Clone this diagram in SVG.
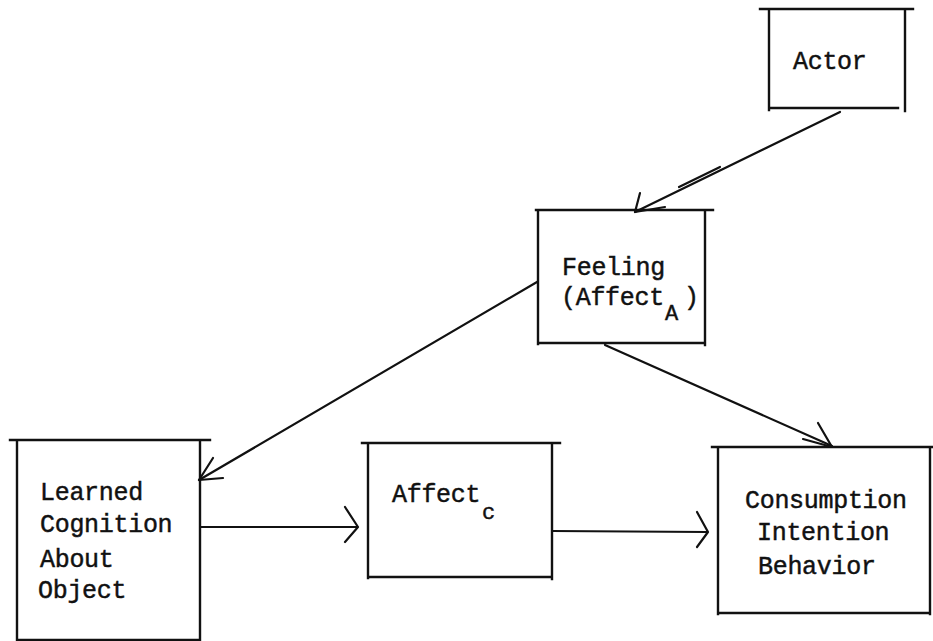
<svg xmlns="http://www.w3.org/2000/svg" width="933" height="641" viewBox="0 0 933 641">
  <defs>
    <style>
      .edge { stroke: #111; stroke-width: 2.2; fill: none; stroke-linecap: round; stroke-linejoin: round; }
      .box { stroke: #111; stroke-width: 2.4; fill: none; stroke-linecap: square; }
      .label { font-family: "Liberation Mono", "DejaVu Sans Mono", monospace; font-size: 25px; letter-spacing: -0.3px; fill: #111; stroke: #111; stroke-width: 0.45; }
      .sub { font-size: 22px; }
    </style>
  </defs>
  <rect width="933" height="641" fill="#ffffff"/>

  <g id="actor">
    <path class="box" d="M760 9 H913 M769 9 V110 M905 9 V111 M769 108 H898"/>
    <text class="label" x="793" y="69">Actor</text>
  </g>

  <g id="feeling">
    <path class="box" d="M536 210 H713 M538 210 V344 M705 210 V345 M538 343 H705"/>
    <text class="label" x="562" y="275">Feeling</text>
    <text class="label" x="561" y="305">(Affect<tspan class="sub" x="665" y="320">A</tspan><tspan x="684" y="305">)</tspan></text>
  </g>

  <g id="learned-cognition">
    <path class="box" d="M10 440 H210 M17 440 V641 M200 440 V641 M17 640 H200"/>
    <text class="label" x="40" y="500">Learned</text>
    <text class="label" x="40" y="532">Cognition</text>
    <text class="label" x="40" y="567">About</text>
    <text class="label" x="38" y="598">Object</text>
  </g>

  <g id="affect-c">
    <path class="box" d="M362 443 H560 M368 443 V578 M552 443 V579 M368 577 H552"/>
    <text class="label" x="392" y="502">Affect<tspan class="sub" x="482" y="519">c</tspan></text>
  </g>

  <g id="consumption">
    <path class="box" d="M712 447 H932 M718 447 V614 M930 447 V614 M718 613 H930"/>
    <text class="label" x="745" y="508">Consumption</text>
    <text class="label" x="757" y="540">Intention</text>
    <text class="label" x="758" y="574">Behavior</text>
  </g>

  <g id="connectors">
    <!-- actor to feeling, with a short doubled stroke along the shaft -->
    <path class="edge" d="M840 112 L635 212"/>
    <path class="edge" d="M679 187 L720 167" stroke-width="1.6"/>
    <path class="edge" d="M640 193 L635 212 L665 207"/>
    <!-- feeling to learned cognition -->
    <path class="edge" d="M537 282 L199 480"/>
    <path class="edge" d="M213 458 L199 480 L223 478"/>
    <!-- learned cognition to affect c -->
    <path class="edge" d="M200 527 L357 527"/>
    <path class="edge" d="M345 507 L358 527 L345 542"/>
    <!-- affect c to consumption -->
    <path class="edge" d="M552 531 L707 532" stroke-width="2.8"/>
    <path class="edge" d="M697 512 L708 532 L697 547"/>
    <!-- feeling to consumption -->
    <path class="edge" d="M605 345 L832 446"/>
    <path class="edge" d="M818 423 L832 447 L803 439"/>
  </g>
</svg>
